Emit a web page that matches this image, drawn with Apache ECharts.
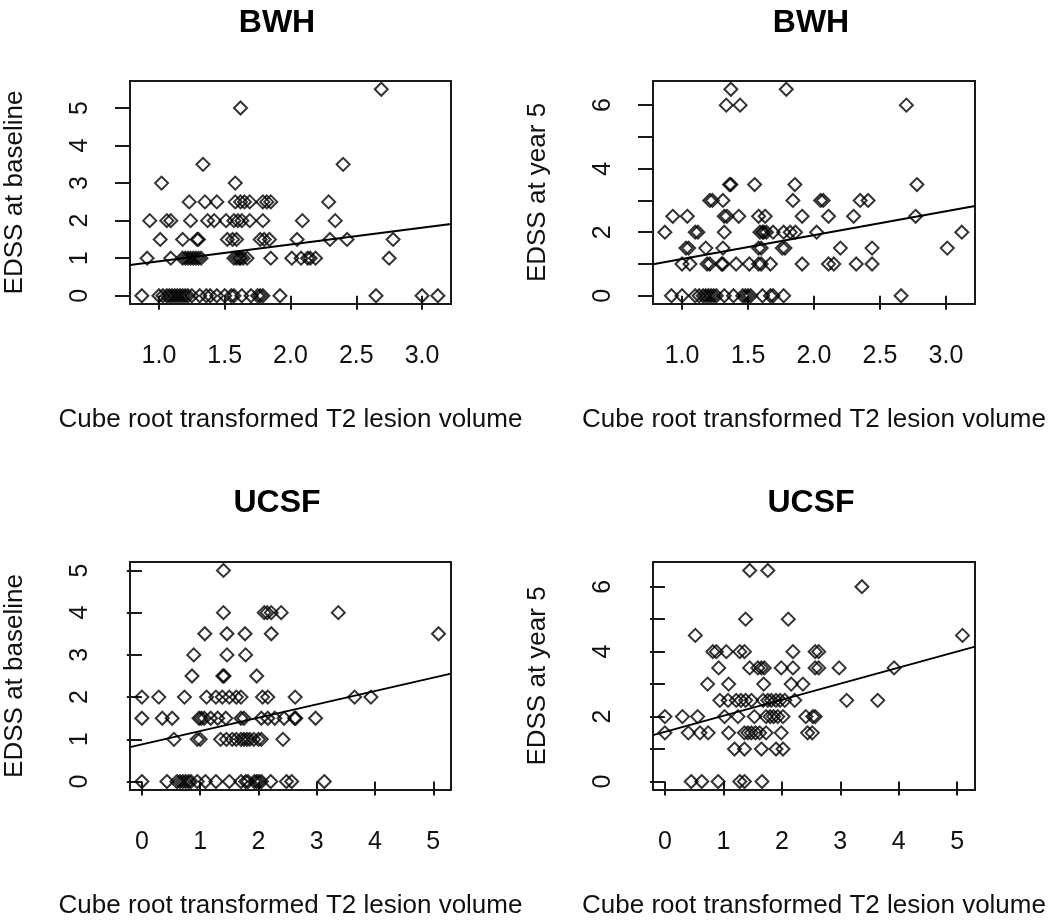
<!DOCTYPE html>
<html><head><meta charset="utf-8">
<script src="https://cdn.jsdelivr.net/npm/echarts@6/dist/echarts.min.js"></script>
<style>html,body{margin:0;padding:0;background:#fff}#c{width:1050px;height:924px}</style>
</head><body><div id="c"></div>
<script>
// ---- text ----
const panelTitles = ['BWH', 'BWH', 'UCSF', 'UCSF'];
const yAxisNames = ['EDSS at baseline', 'EDSS at year 5', 'EDSS at baseline', 'EDSS at year 5'];
const xAxisName = 'Cube root transformed T2 lesion volume';

// ---- tick values / labels ----
const bwhXTicks = [1.0, 1.5, 2.0, 2.5, 3.0];
const ucsfXTicks = [0, 1, 2, 3, 4, 5];
const baselineYTicks = [0, 1, 2, 3, 4, 5];
const year5YTicks = [0, 1, 2, 3, 4, 5, 6];
const year5YLabels = [0, 2, 4, 6];

// ---- data: [cube-root T2 lesion volume, EDSS] ----
const bwhBaseline = [
  [2.69,5.5],[1.62,5],[1.335,3.5],[2.40,3.5],[1.02,3],[1.58,3],
  [1.23,2.5],[1.35,2.5],[1.44,2.5],[1.58,2.5],[1.62,2.5],[1.65,2.5],[1.69,2.5],[1.79,2.5],[1.82,2.5],[1.85,2.5],[2.29,2.5],
  [0.93,2],[1.06,2],[1.09,2],[1.24,2],[1.37,2],[1.42,2],[1.51,2],[1.57,2],[1.60,2],[1.63,2],[1.69,2],[1.79,2],[2.09,2],[2.34,2],
  [1.01,1.5],[1.18,1.5],[1.29,1.5],[1.30,1.5],[1.52,1.5],[1.56,1.5],[1.59,1.5],[1.77,1.5],[1.80,1.5],[1.84,1.5],[2.05,1.5],[2.30,1.5],[2.43,1.5],[2.78,1.5],
  [0.91,1],[1.09,1],[1.18,1],[1.20,1],[1.22,1],[1.24,1],[1.26,1],[1.28,1],[1.30,1],[1.32,1],[1.57,1],[1.59,1],[1.61,1],[1.62,1],[1.64,1],[1.67,1],[1.85,1],[2.01,1],[2.08,1],[2.13,1],[2.15,1],[2.19,1],[2.75,1],
  [0.87,0],[1.00,0],[1.03,0],[1.06,0],[1.08,0],[1.10,0],[1.12,0],[1.14,0],[1.16,0],[1.18,0],[1.20,0],[1.22,0],[1.25,0],[1.31,0],[1.36,0],[1.39,0],[1.44,0],[1.50,0],[1.55,0],[1.57,0],[1.63,0],[1.70,0],[1.75,0],[1.77,0],[1.79,0],[1.92,0],[2.65,0],[3.00,0],[3.12,0]
];
const bwhYear5 = [
  [1.37,6.5],[1.79,6.5],[1.335,6],[1.44,6],[2.70,6],
  [1.36,3.5],[1.37,3.5],[1.55,3.5],[1.855,3.5],[2.78,3.5],
  [1.21,3],[1.23,3],[1.31,3],[1.84,3],[2.05,3],[2.07,3],[2.35,3],[2.41,3],
  [0.93,2.5],[1.04,2.5],[1.32,2.5],[1.34,2.5],[1.43,2.5],[1.58,2.5],[1.63,2.5],[1.91,2.5],[2.11,2.5],[2.30,2.5],[2.77,2.5],
  [0.87,2],[1.10,2],[1.12,2],[1.32,2],[1.59,2],[1.61,2],[1.62,2],[1.64,2],[1.69,2],[1.77,2],[1.82,2],[1.86,2],[2.02,2],[3.12,2],
  [1.03,1.5],[1.05,1.5],[1.18,1.5],[1.31,1.5],[1.58,1.5],[1.60,1.5],[1.76,1.5],[1.78,1.5],[2.20,1.5],[2.44,1.5],[3.01,1.5],
  [1.00,1],[1.06,1],[1.19,1],[1.21,1],[1.30,1],[1.31,1],[1.41,1],[1.51,1],[1.58,1],[1.60,1],[1.67,1],[1.91,1],[2.11,1],[2.15,1],[2.32,1],[2.44,1],
  [0.92,0],[1.00,0],[1.10,0],[1.13,0],[1.16,0],[1.18,0],[1.20,0],[1.22,0],[1.24,0],[1.26,0],[1.32,0],[1.39,0],[1.46,0],[1.48,0],[1.50,0],[1.52,0],[1.61,0],[1.67,0],[1.69,0],[1.77,0],[2.66,0]
];
const ucsfBaseline = [
  [1.40,5],
  [1.40,4],[2.10,4],[2.15,4],[2.22,4],[2.39,4],[3.37,4],
  [1.08,3.5],[1.46,3.5],[1.77,3.5],[2.22,3.5],[5.09,3.5],
  [0.89,3],[1.46,3],[1.78,3],
  [0.86,2.5],[1.39,2.5],[1.41,2.5],[1.97,2.5],
  [0.0,2],[0.29,2],[0.73,2],[1.11,2],[1.27,2],[1.38,2],[1.50,2],[1.62,2],[1.70,2],[2.07,2],[2.16,2],[2.63,2],[3.65,2],[3.93,2],
  [0.0,1.5],[0.35,1.5],[0.52,1.5],[0.98,1.5],[1.02,1.5],[1.07,1.5],[1.18,1.5],[1.30,1.5],[1.44,1.5],[1.70,1.5],[1.75,1.5],[2.05,1.5],[2.16,1.5],[2.28,1.5],[2.44,1.5],[2.62,1.5],[2.64,1.5],[2.98,1.5],
  [0.55,1],[0.95,1],[1.00,1],[1.35,1],[1.45,1],[1.55,1],[1.62,1],[1.70,1],[1.75,1],[1.80,1],[1.85,1],[1.92,1],[2.00,1],[2.05,1],[2.42,1],
  [0.0,0],[0.43,0],[0.60,0],[0.65,0],[0.70,0],[0.75,0],[0.80,0],[0.84,0],[0.95,0],[1.09,0],[1.27,0],[1.50,0],[1.70,0],[1.78,0],[1.82,0],[1.93,0],[1.97,0],[2.01,0],[2.05,0],[2.21,0],[2.48,0],[2.57,0],[3.13,0]
];
const ucsfYear5 = [
  [1.45,6.5],[1.76,6.5],[3.37,6],[1.38,5],[2.11,5],[0.52,4.5],[5.09,4.5],
  [0.82,4],[0.88,4],[1.05,4],[1.28,4],[1.36,4],[2.19,4],[2.57,4],[2.63,4],
  [0.92,3.5],[1.45,3.5],[1.59,3.5],[1.65,3.5],[1.70,3.5],[1.99,3.5],[2.19,3.5],[2.57,3.5],[2.63,3.5],[2.98,3.5],[3.92,3.5],
  [0.73,3],[1.09,3],[1.69,3],[2.16,3],[2.36,3],
  [0.94,2.5],[1.08,2.5],[1.22,2.5],[1.30,2.5],[1.38,2.5],[1.48,2.5],[1.68,2.5],[1.76,2.5],[1.82,2.5],[1.90,2.5],[1.97,2.5],[2.05,2.5],[2.22,2.5],[3.11,2.5],[3.64,2.5],
  [0.0,2],[0.30,2],[0.56,2],[1.02,2],[1.25,2],[1.53,2],[1.73,2],[1.80,2],[1.86,2],[1.93,2],[2.02,2],[2.41,2],[2.53,2],[2.57,2],
  [0.0,1.5],[0.40,1.5],[0.60,1.5],[0.74,1.5],[1.09,1.5],[1.36,1.5],[1.42,1.5],[1.48,1.5],[1.55,1.5],[1.62,1.5],[1.73,1.5],[1.99,1.5],[2.44,1.5],[2.52,1.5],
  [1.19,1],[1.36,1],[1.65,1],[1.90,1],[2.02,1],
  [0.45,0],[0.63,0],[0.91,0],[1.28,0],[1.36,0],[1.66,0]
];

// ---- fitted regression lines (intercept, slope) per panel ----
const fitIntercept = [0.47, 0.40, 0.88, 1.53];
const fitSlope = [0.447, 0.754, 0.316, 0.495];

// ---- layout ----
const FONT = '"Liberation Sans", Arial, sans-serif';
const panels = [
  {data: bwhBaseline, grid: {left: 130, top: 81, width: 321, height: 223}, x: [0.78, 3.22], y: [-0.22, 5.72],
   xTicks: bwhXTicks, xLabels: bwhXTicks, yTicks: baselineYTicks, yLabels: baselineYTicks, xFmt: v => v.toFixed(1), titleX: 272, titleY: 2},
  {data: bwhYear5, grid: {left: 653, top: 81, width: 322, height: 223}, x: [0.78, 3.22], y: [-0.26, 6.76],
   xTicks: bwhXTicks, xLabels: bwhXTicks, yTicks: year5YTicks, yLabels: year5YLabels, xFmt: v => v.toFixed(1), titleX: 806, titleY: 2},
  {data: ucsfBaseline, grid: {left: 130, top: 562, width: 321, height: 228}, x: [-0.204, 5.304], y: [-0.2, 5.2],
   xTicks: ucsfXTicks, xLabels: ucsfXTicks, yTicks: baselineYTicks, yLabels: baselineYTicks, xFmt: v => String(v), titleX: 272, titleY: 482},
  {data: ucsfYear5, grid: {left: 653, top: 562, width: 322, height: 228}, x: [-0.204, 5.304], y: [-0.26, 6.76],
   xTicks: ucsfXTicks, xLabels: ucsfXTicks, yTicks: year5YTicks, yLabels: year5YLabels, xFmt: v => String(v), titleX: 806, titleY: 482}
];

const option = {
  backgroundColor: '#fff',
  animation: false,
  title: panels.map((p, i) => ({
    text: panelTitles[i], left: p.titleX, top: p.titleY, textAlign: 'center',
    textStyle: {fontSize: 32, fontWeight: 'bold', color: '#000', fontFamily: FONT}
  })),
  grid: panels.map(p => Object.assign({show: true, borderColor: '#1a1a1a', borderWidth: 2, containLabel: false}, p.grid)),
  xAxis: panels.map((p, i) => ({
    type: 'value', gridIndex: i, min: p.x[0], max: p.x[1],
    name: xAxisName, nameLocation: 'middle', nameGap: 103,
    nameTextStyle: {fontSize: 26, color: '#111', fontFamily: FONT},
    axisLine: {show: false},
    splitLine: {show: false},
    axisTick: {show: true, inside: false, length: 14, customValues: p.xTicks, lineStyle: {color: '#1a1a1a', width: 2}},
    axisLabel: {customValues: p.xLabels, formatter: p.xFmt, margin: 40, fontSize: 25, color: '#111', fontFamily: FONT}
  })),
  yAxis: panels.map((p, i) => ({
    type: 'value', gridIndex: i, min: p.y[0], max: p.y[1],
    name: yAxisNames[i], nameLocation: 'middle', nameGap: 102,
    nameTextStyle: {fontSize: 26, color: '#111', fontFamily: FONT},
    axisLine: {show: false},
    splitLine: {show: false},
    axisTick: {show: true, inside: false, length: 15, customValues: p.yTicks, lineStyle: {color: '#1a1a1a', width: 2}},
    axisLabel: {customValues: p.yLabels, rotate: 90, margin: 37, fontSize: 25, color: '#111', fontFamily: FONT}
  })),
  series: []
};

panels.forEach((p, i) => {
  option.series.push({
    type: 'scatter', xAxisIndex: i, yAxisIndex: i, data: p.data,
    symbol: 'diamond', symbolSize: [13, 13],
    itemStyle: {color: 'rgba(0,0,0,0)', borderColor: '#000', borderWidth: 2},
    silent: true
  });
  const a = fitIntercept[i], b = fitSlope[i];
  option.series.push({
    type: 'line', xAxisIndex: i, yAxisIndex: i, symbol: 'none', silent: true, clip: true,
    data: [[p.x[0], a + b * p.x[0]], [p.x[1], a + b * p.x[1]]],
    lineStyle: {color: '#000', width: 2}
  });
});

const chart = echarts.init(document.getElementById('c'), null, {renderer: 'canvas'});
chart.setOption(option);
</script>
</body></html>
